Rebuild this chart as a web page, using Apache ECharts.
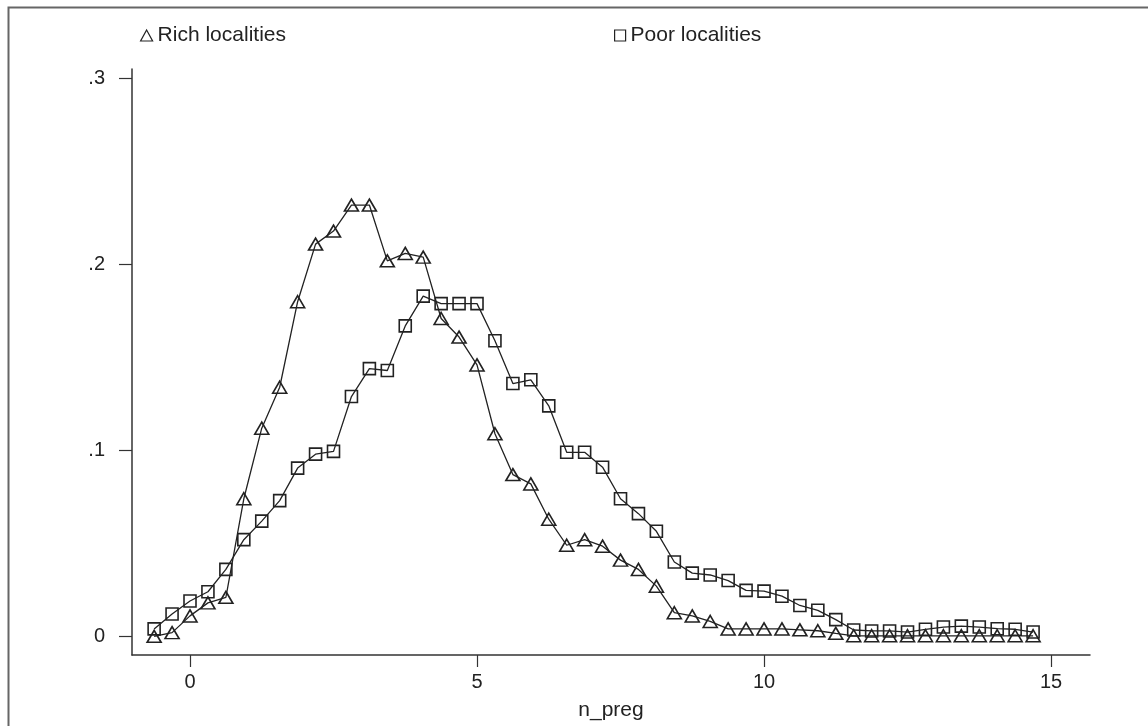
<!DOCTYPE html>
<html>
<head>
<meta charset="utf-8">
<script src="https://cdn.jsdelivr.net/npm/echarts@6/dist/echarts.min.js"></script>
<style>
html,body{margin:0;padding:0;background:#fff;}
#chart{width:1148px;height:726px;}
</style>
</head>
<body>
<div id="chart"></div>
<script>
var nPreg = [-0.625, -0.3125, 0, 0.3125, 0.625, 0.9375, 1.25, 1.5625, 1.875, 2.1875,
  2.5, 2.8125, 3.125, 3.4375, 3.75, 4.0625, 4.375, 4.6875, 5, 5.3125,
  5.625, 5.9375, 6.25, 6.5625, 6.875, 7.1875, 7.5, 7.8125, 8.125, 8.4375,
  8.75, 9.0625, 9.375, 9.6875, 10, 10.3125, 10.625, 10.9375, 11.25, 11.5625,
  11.875, 12.1875, 12.5, 12.8125, 13.125, 13.4375, 13.75, 14.0625, 14.375, 14.6875];

var richValues = [0.000, 0.002, 0.011, 0.018, 0.021, 0.074, 0.112, 0.134, 0.180, 0.211,
  0.218, 0.232, 0.232, 0.202, 0.206, 0.204, 0.171, 0.161, 0.146, 0.109,
  0.087, 0.082, 0.063, 0.049, 0.052, 0.0485, 0.041, 0.036, 0.027, 0.0127,
  0.011, 0.008, 0.004, 0.004, 0.004, 0.004, 0.0035, 0.003, 0.0016, 0.0003,
  0.0003, 0.0003, 0.0003, 0.0003, 0.0003, 0.0003, 0.0003, 0.0003, 0.0003, 0.0003];

var poorValues = [0.004, 0.012, 0.019, 0.024, 0.036, 0.052, 0.062, 0.073, 0.0905, 0.098,
  0.0995, 0.129, 0.144, 0.143, 0.167, 0.183, 0.179, 0.179, 0.179, 0.159,
  0.136, 0.138, 0.124, 0.099, 0.099, 0.091, 0.074, 0.066, 0.0565, 0.040,
  0.034, 0.033, 0.030, 0.0247, 0.0243, 0.0216, 0.0166, 0.014, 0.009, 0.0034,
  0.0029, 0.0029, 0.0023, 0.0038, 0.005, 0.0055, 0.005, 0.0041, 0.0038, 0.0023];

var xTicks = [0, 5, 10, 15];
var yTicks = [0, 0.1, 0.2, 0.3];
var seriesNames = ['Rich localities', 'Poor localities'];
var xTitle = 'n_preg';

function pairs(xs, ys) {
  return xs.map(function (x, i) { return [x, ys[i]]; });
}

var FONT = 'Liberation Sans';
var INK = '#222';

var chart = echarts.init(document.getElementById('chart'), null, {renderer: 'canvas'});

var markerStyle = {color: 'rgba(255,255,255,0)', borderColor: INK, borderWidth: 1.6};

chart.setOption({
  backgroundColor: '#fff',
  animation: false,
  graphic: [{
    type: 'polyline',
    shape: {points: [[8.5, 730], [8.5, 7.5], [1150, 7.5]]},
    style: {stroke: '#666', lineWidth: 2, fill: null},
    silent: true
  }],
  legend: [{
    data: [{name: seriesNames[0], icon: 'triangle'}],
    left: 135, top: 20,
    itemWidth: 12, itemHeight: 11, itemGap: 8,
    textStyle: {fontFamily: FONT, fontSize: 21, color: INK},
    itemStyle: {color: 'rgba(255,255,255,0)', borderColor: INK, borderWidth: 1.2}
  }, {
    data: [{name: seriesNames[1], icon: 'rect'}],
    left: 609, top: 20,
    itemWidth: 11, itemHeight: 11, itemGap: 8,
    textStyle: {fontFamily: FONT, fontSize: 21, color: INK},
    itemStyle: {color: 'rgba(255,255,255,0)', borderColor: INK, borderWidth: 1.2}
  }],
  grid: {left: 132, right: 58, top: 69, bottom: 70, containLabel: false},
  xAxis: {
    type: 'value',
    min: -1.0105, max: 15.679,
    name: xTitle,
    nameLocation: 'middle',
    nameGap: 45,
    nameTextStyle: {fontFamily: FONT, fontSize: 21, color: INK},
    axisLine: {show: true, onZero: false, lineStyle: {color: '#333', width: 1.5}},
    axisTick: {show: true, length: 12, inside: false, customValues: xTicks, lineStyle: {color: '#333', width: 1.2}},
    axisLabel: {customValues: xTicks, fontFamily: FONT, fontSize: 20, color: INK, margin: 17},
    splitLine: {show: false}
  },
  yAxis: {
    type: 'value',
    min: -0.01004, max: 0.3052,
    axisLine: {show: true, onZero: false, lineStyle: {color: '#333', width: 1.5}},
    axisTick: {show: true, length: 13, inside: false, customValues: yTicks, lineStyle: {color: '#333', width: 1.2}},
    axisLabel: {
      customValues: yTicks, fontFamily: FONT, fontSize: 20, color: INK, margin: 27,
      formatter: function (v) {
        if (Math.abs(v) < 1e-9) return '0';
        return String(Math.round(v * 10) / 10).replace(/^0/, '');
      }
    },
    splitLine: {show: false}
  },
  series: [{
    name: seriesNames[0],
    type: 'line',
    data: pairs(nPreg, richValues),
    symbol: 'triangle',
    symbolSize: [14, 12],
    showAllSymbol: true,
    lineStyle: {color: INK, width: 1.3},
    itemStyle: markerStyle,
    z: 3
  }, {
    name: seriesNames[1],
    type: 'line',
    data: pairs(nPreg, poorValues),
    symbol: 'rect',
    symbolSize: 12,
    showAllSymbol: true,
    lineStyle: {color: INK, width: 1.3},
    itemStyle: markerStyle,
    z: 2
  }]
});
</script>
</body>
</html>
